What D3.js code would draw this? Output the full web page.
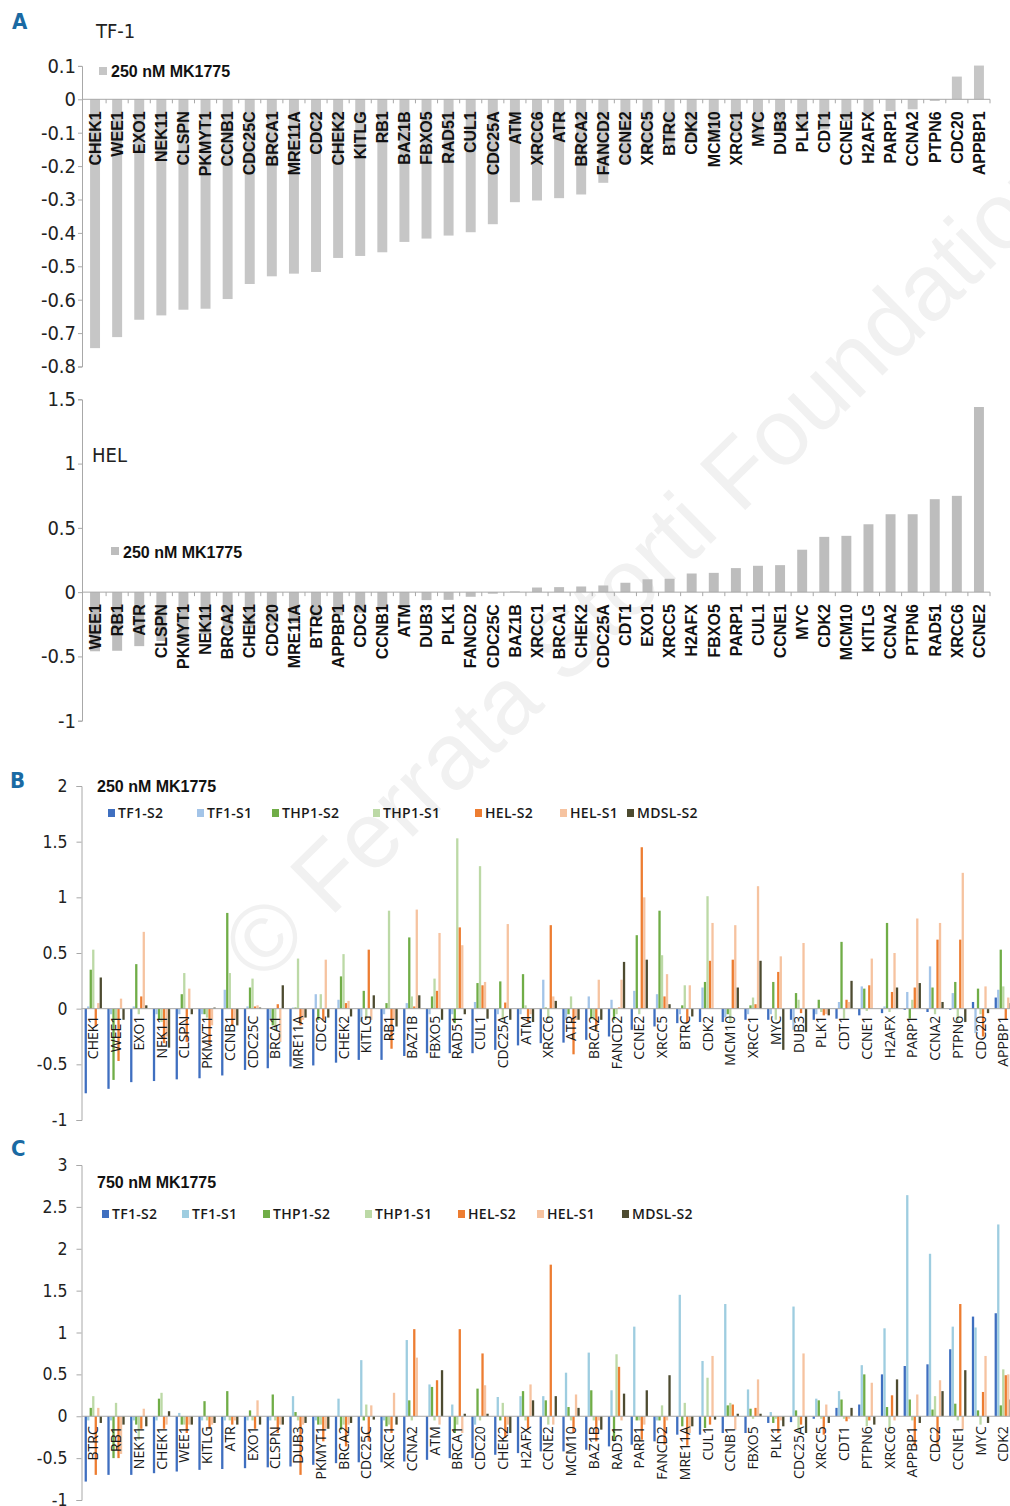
<!DOCTYPE html>
<html><head><meta charset="utf-8">
<script src="https://cdn.jsdelivr.net/npm/d3@7"></script>
<style>body{margin:0;background:#fff}svg{display:block}</style>
</head><body>
<script>
// ---------------- DATA ----------------
const tf1Genes = ["CHEK1","WEE1","EXO1","NEK11","CLSPN","PKMYT1","CCNB1","CDC25C","BRCA1","MRE11A","CDC2","CHEK2","KITLG","RB1","BAZ1B","FBXO5","RAD51","CUL1","CDC25A","ATM","XRCC6","ATR","BRCA2","FANCD2","CCNE2","XRCC5","BTRC","CDK2","MCM10","XRCC1","MYC","DUB3","PLK1","CDT1","CCNE1","H2AFX","PARP1","CCNA2","PTPN6","CDC20","APPBP1"];
const tf1Values = [-0.745,-0.712,-0.66,-0.647,-0.63,-0.627,-0.598,-0.553,-0.53,-0.522,-0.517,-0.475,-0.469,-0.458,-0.427,-0.417,-0.408,-0.398,-0.374,-0.308,-0.303,-0.296,-0.285,-0.25,-0.19,-0.16,-0.14,-0.13,-0.12,-0.11,-0.105,-0.1,-0.095,-0.09,-0.065,-0.045,-0.035,-0.03,-0.005,0.068,0.101];
const tf1TickValues = [0.1,0,-0.1,-0.2,-0.3,-0.4,-0.5,-0.6,-0.7,-0.8];
const tf1TickLabels = ["0.1","0","-0.1","-0.2","-0.3","-0.4","-0.5","-0.6","-0.7","-0.8"];

const helGenes = ["WEE1","RB1","ATR","CLSPN","PKMYT1","NEK11","BRCA2","CHEK1","CDC20","MRE11A","BTRC","APPBP1","CDC2","CCNB1","ATM","DUB3","PLK1","FANCD2","CDC25C","BAZ1B","XRCC1","BRCA1","CHEK2","CDC25A","CDT1","EXO1","XRCC5","H2AFX","FBXO5","PARP1","CUL1","CCNE1","MYC","CDK2","MCM10","KITLG","CCNA2","PTPN6","RAD51","XRCC6","CCNE2"];
const helValues = [-0.46,-0.456,-0.42,-0.38,-0.36,-0.33,-0.3,-0.28,-0.26,-0.24,-0.21,-0.18,-0.16,-0.13,-0.11,-0.062,-0.06,-0.036,-0.012,0.005,0.036,0.039,0.044,0.052,0.073,0.10,0.104,0.145,0.15,0.187,0.205,0.21,0.33,0.43,0.438,0.528,0.606,0.606,0.723,0.749,1.44];
const helTickValues = [1.5,1,0.5,0,-0.5,-1];
const helTickLabels = ["1.5","1","0.5","0","-0.5","-1"];

const seriesNames = ["TF1-S2","TF1-S1","THP1-S2","THP1-S1","HEL-S2","HEL-S1","MDSL-S2"];

// Panel B (250 nM), categories in tf1Genes order
const bGenes = tf1Genes;
const bTF1S2  = [-0.76,-0.72,-0.66,-0.65,-0.635,-0.625,-0.6,-0.55,-0.535,-0.52,-0.51,-0.485,-0.46,-0.46,-0.425,-0.4,-0.4,-0.4,-0.37,-0.33,-0.31,-0.305,-0.28,-0.25,-0.19,-0.16,-0.13,-0.12,-0.12,-0.1,-0.1,-0.1,-0.1,-0.09,-0.06,-0.04,-0.01,-0.03,-0.01,0.06,0.1];
const bTF1S1  = [0.02,-0.05,0.02,-0.05,-0.05,-0.05,0.17,0.02,-0.1,0.01,0.13,0.08,-0.12,-0.05,0.05,-0.05,-0.05,0.06,-0.05,-0.05,0.26,-0.1,0.11,0.08,0.16,0.13,-0.05,0.19,-0.08,-0.05,-0.05,-0.19,-0.05,0.06,0.2,0.02,0.15,0.38,0.14,-0.22,0.17];
const bTHP1S2 = [0.35,-0.64,0.4,-0.1,0.13,-0.05,0.86,0.19,-0.15,0.01,-0.1,0.29,0.16,0.05,0.64,0.11,-0.13,0.23,0.245,0.31,0.01,-0.05,-0.09,-0.1,0.66,0.88,0.03,0.24,-0.05,0.03,0.24,0.14,0.08,0.6,0.18,0.77,-0.09,0.19,0.24,0.18,0.53];
const bTHP1S1 = [0.53,-0.1,-0.05,-0.12,0.32,-0.08,0.32,0.27,-0.2,0.45,0.13,0.49,-0.09,0.88,0.11,0.27,1.53,1.28,-0.1,0.03,-0.09,0.11,-0.1,-0.05,-0.05,0.48,0.21,1.01,-0.13,0.1,-0.1,0.08,-0.03,-0.09,-0.02,-0.03,0.08,-0.05,-0.1,-0.05,0.2];
const bHELS2  = [-0.16,-0.47,0.11,-0.31,-0.3,-0.32,-0.15,0.02,0.04,-0.15,-0.1,0.05,0.53,-0.36,0.02,0.16,0.73,0.21,0.055,-0.12,0.75,-0.41,-0.19,0.01,1.45,0.11,-0.13,0.43,0.44,0.04,0.33,-0.04,-0.06,0.08,0.21,0.15,0.19,0.62,0.62,-0.25,-0.1];
const bHELS1  = [0.05,0.09,0.69,-0.25,0.18,-0.15,-0.1,0.03,-0.3,-0.1,0.44,0.07,-0.1,-0.1,0.89,0.68,0.57,0.24,0.76,-0.05,0.11,-0.1,0.26,0.26,1.0,0.31,0.21,0.77,0.75,1.1,0.47,0.59,-0.05,0.06,0.45,0.5,0.81,0.77,1.22,0.2,0.1];
const bMDSLS2 = [0.28,-0.1,0.03,-0.35,-0.05,0.01,-0.15,0.01,0.21,-0.08,-0.08,-0.07,0.12,-0.16,0.12,-0.1,-0.05,-0.09,-0.1,-0.12,0.07,-0.1,-0.1,0.42,0.44,0.04,-0.07,0.0,0.19,0.43,-0.37,-0.21,-0.06,0.25,0.0,0.19,0.23,0.06,-0.12,-0.04,0.05];
const bTickValues = [2,1.5,1,0.5,0,-0.5,-1];
const bTickLabels = ["2","1.5","1","0.5","0","-0.5","-1"];

// Panel C (750 nM)
const cGenes = ["BTRC","RB1","NEK11","CHEK1","WEE1","KITLG","ATR","EXO1","CLSPN","DUB3","PKMYT1","BRCA2","CDC25C","XRCC1","CCNA2","ATM","BRCA1","CDC20","CHEK2","H2AFX","CCNE2","MCM10","BAZ1B","RAD51","PARP1","FANCD2","MRE11A","CUL1","CCNB1","FBXO5","PLK1","CDC25A","XRCC5","CDT1","PTPN6","XRCC6","APPBP1","CDC2","CCNE1","MYC","CDK2"];
const cTF1S2  = [-0.78,-0.7,-0.7,-0.68,-0.66,-0.64,-0.63,-0.62,-0.61,-0.6,-0.58,-0.56,-0.55,-0.55,-0.54,-0.52,-0.5,-0.5,-0.46,-0.44,-0.42,-0.42,-0.4,-0.36,-0.34,-0.3,-0.22,-0.22,-0.2,-0.2,-0.08,-0.07,-0.03,0.1,0.14,0.5,0.6,0.62,0.8,1.19,1.23];
const cTF1S1  = [-0.05,-0.05,-0.05,-0.05,0.04,-0.05,-0.05,-0.05,-0.05,0.24,-0.05,0.21,0.67,-0.05,0.91,0.38,0.14,-0.1,0.23,0.24,0.24,0.52,0.76,0.31,1.07,-0.05,1.45,0.66,1.34,0.32,0.05,1.31,0.21,0.3,0.61,1.05,2.64,1.94,1.07,1.06,2.29];
const cTHP1S2 = [0.1,-0.5,-0.1,0.21,-0.1,0.18,0.3,0.07,0.26,0.05,-0.1,-0.16,-0.05,-0.12,0.19,0.35,-0.2,0.33,-0.05,0.3,0.19,0.11,0.31,-0.3,-0.05,-0.05,-0.12,-0.14,0.13,0.09,-0.08,0.07,0.19,0.2,0.5,0.11,0.2,0.08,0.15,0.07,0.13];
const cTHP1S1 = [0.24,0.16,-0.28,0.28,-0.1,-0.05,-0.05,-0.05,-0.05,-0.05,-0.1,-0.1,0.14,-0.1,-0.05,-0.05,-0.1,-0.05,0.16,-0.05,-0.1,-0.05,-0.05,0.74,-0.05,0.13,0.16,0.46,0.16,-0.03,-0.03,-0.18,-0.03,-0.03,-0.12,-0.16,-0.05,0.24,-0.05,-0.1,0.56];
const cHELS2  = [-0.7,-0.5,-0.15,-0.15,-0.2,-0.15,-0.1,-0.15,-0.2,-0.7,-0.3,-0.36,-0.3,-0.2,1.04,0.43,1.04,0.75,-0.26,-0.16,1.81,-0.2,-0.3,0.59,-0.28,-0.34,-0.35,-0.1,0.14,0.1,-0.2,-0.1,-0.22,-0.06,-0.05,0.25,-0.36,-0.36,1.34,0.29,0.49];
const cHELS1  = [0.1,-0.45,0.09,-0.1,-0.1,-0.1,-0.05,0.19,-0.1,-0.1,-0.15,-0.1,0.13,0.28,0.7,-0.1,-0.2,0.37,-0.1,0.38,-0.1,0.26,-0.05,-0.05,-0.1,-0.05,-0.2,0.72,-0.16,0.44,-0.05,0.75,0.14,-0.03,0.4,-0.05,0.26,0.43,-0.16,0.72,0.5];
const cMDSLS2 = [-0.08,-0.1,-0.12,0.06,-0.1,-0.08,-0.1,-0.1,-0.1,-0.08,-0.15,-0.08,-0.04,-0.1,0.0,0.55,0.03,0.03,-0.2,0.19,0.24,0.1,-0.16,0.27,0.31,0.49,-0.12,-0.04,0.03,0.03,-0.12,-0.2,-0.08,0.1,-0.1,0.44,-0.08,0.3,0.55,-0.08,0.2];
const cTickValues = [3,2.5,2,1.5,1,0.5,0,-0.5,-1];
const cTickLabels = ["3","2.5","2","1.5","1","0.5","0","-0.5","-1"];

// ---------------- STYLE ----------------
const colorsB = ["#3f6fc0","#a3c4e8","#70ad47","#bcd9a6","#ed7d31","#f6c3a0","#4d4b30"];
const colorsC = ["#3f6fc0","#9ecde0","#70ad47","#bcd9a6","#ed7d31","#f6c3a0","#4d4b30"];
const condFont = "'DejaVu Sans Condensed','DejaVu Sans',sans-serif";
const boldFont = "'Liberation Sans',Arial,sans-serif";
const calFont = "'Open Sans',Lato,sans-serif";
const axisColor = "#a8a8a8";

const svg = d3.select("body").append("svg").attr("width",1010).attr("height",1506);

// watermark
svg.append("text").attr("transform","translate(262,985) rotate(-44.5)")
  .attr("font-family",boldFont).attr("font-size",94).attr("fill","#f1f1f1")
  .text("© Ferrata Storti Foundation");

function yAxis(g, y, vals, labels, x, size, tsize, pad){
  const ax = d3.axisLeft(y).tickValues(vals).tickFormat((d,i)=>labels[i]).tickSize(tsize).tickPadding(pad);
  const a = g.append("g").attr("transform",`translate(${x},0)`).call(ax);
  a.selectAll("path,line").attr("stroke",axisColor);
  a.selectAll("text").attr("font-family",condFont).attr("font-size",size).attr("fill","#222");
  return a;
}

// ---------- Panel A: single gray series ----------
function drawSingle(genes, values, yDom, yRng, ticks, tickLabels, barColor, xRange){
  const g = svg.append("g");
  const y = d3.scaleLinear().domain(yDom).range(yRng);
  const x = d3.scaleBand().domain(genes).range(xRange).paddingInner(0.55).paddingOuter(0.275);
  const y0 = y(0);
  g.selectAll("rect.bar").data(genes).join("rect")
    .attr("x",d=>x(d)).attr("width",x.bandwidth())
    .attr("y",(d,i)=>Math.min(y(values[i]),y0))
    .attr("height",(d,i)=>Math.abs(y(values[i])-y0))
    .attr("fill",barColor);
  yAxis(g, y, ticks, tickLabels, 82, 20, 4, 2);
  g.append("line").attr("x1",82).attr("x2",xRange[1]).attr("y1",y0).attr("y2",y0).attr("stroke",axisColor);
  const off = (x.step()-x.bandwidth())/2;
  g.selectAll("line.xt").data(genes).join("line").attr("class","xt")
    .attr("x1",d=>x(d)+x.bandwidth()+off).attr("x2",d=>x(d)+x.bandwidth()+off)
    .attr("y1",y0).attr("y2",y0+4).attr("stroke",axisColor);
  g.selectAll("text.cat").data(genes).join("text").attr("class","cat")
    .attr("transform",d=>`translate(${x(d)+x.bandwidth()/2},${y0+12}) rotate(-90)`)
    .attr("text-anchor","end").attr("dy","0.36em")
    .attr("font-family",boldFont).attr("font-weight","bold").attr("font-size",16).attr("fill","#111")
    .text(d=>d);
  return {g,y,x};
}

drawSingle(tf1Genes, tf1Values, [-0.8,0.1], [366.5,65.9], tf1TickValues, tf1TickLabels, "#c6c6c6", [84,990]);
drawSingle(helGenes, helValues, [-1,1.5], [720.7,399.3], helTickValues, helTickLabels, "#bdbdbd", [84,990]);

// panel A text
svg.append("text").attr("x",12).attr("y",29).attr("font-family",condFont).attr("font-weight","bold")
  .attr("font-size",22).attr("fill","#1a6aa3").text("A");
svg.append("text").attr("x",96).attr("y",38).attr("font-family",condFont).attr("font-size",20).attr("fill","#222").text("TF-1");
svg.append("text").attr("x",92).attr("y",462).attr("font-family",condFont).attr("font-size",20).attr("fill","#222").text("HEL");
svg.append("rect").attr("x",99).attr("y",67).attr("width",8).attr("height",8).attr("fill","#c6c6c6");
svg.append("text").attr("x",111).attr("y",77).attr("font-family",boldFont).attr("font-weight","bold").attr("font-size",16).attr("fill","#111").text("250 nM MK1775");
svg.append("rect").attr("x",111).attr("y",547).attr("width",8).attr("height",8).attr("fill","#bdbdbd");
svg.append("text").attr("x",123).attr("y",558).attr("font-family",boldFont).attr("font-weight","bold").attr("font-size",16).attr("fill","#111").text("250 nM MK1775");

// ---------- Panels B & C: grouped ----------
function drawGrouped(genes, seriesVals, colors, yDom, yRng, ticks, tickLabels, labelOff){
  const g = svg.append("g");
  const y = d3.scaleLinear().domain(yDom).range(yRng);
  const step = 22.75;
  const x = d3.scaleBand().domain(genes).range([82, 82+genes.length*step]).paddingInner(0.23).paddingOuter(0.115);
  const xs = d3.scaleBand().domain(seriesNames).range([0,x.bandwidth()]);
  const y0 = y(0);
  const rows = [];
  genes.forEach((gn,i)=>seriesNames.forEach((s,j)=>rows.push({gn,s,j,v:seriesVals[j][i]})));
  g.selectAll("rect").data(rows).join("rect")
    .attr("x",d=>x(d.gn)+xs(d.s)).attr("width",xs.bandwidth()*0.92)
    .attr("y",d=>Math.min(y(d.v),y0)).attr("height",d=>Math.abs(y(d.v)-y0))
    .attr("fill",d=>colors[d.j]);
  yAxis(g, y, ticks, tickLabels, 81.5, 17.5, 5, 9);
  g.append("line").attr("x1",81.5).attr("x2",1010).attr("y1",y0).attr("y2",y0).attr("stroke",axisColor);
  g.selectAll("text.cat").data(genes).join("text").attr("class","cat")
    .attr("transform",d=>`translate(${x(d)+x.bandwidth()/2},${y0+labelOff}) rotate(-90)`)
    .attr("text-anchor","end").attr("dy","0.36em")
    .attr("font-family",calFont).attr("font-size",14).attr("fill","#1a1a1a")
    .text(d=>d);
  return {g,y,x};
}

drawGrouped(bGenes, [bTF1S2,bTF1S1,bTHP1S2,bTHP1S1,bHELS2,bHELS1,bMDSLS2], colorsB, [-1,2], [1120,786], bTickValues, bTickLabels, 7);
drawGrouped(cGenes, [cTF1S2,cTF1S1,cTHP1S2,cTHP1S1,cHELS2,cHELS1,cMDSLS2], colorsC, [-1,3], [1500,1165], cTickValues, cTickLabels, 10);

// titles / legends B & C
function legend(xs, ySq, colors){
  seriesNames.forEach((s,i)=>{
    svg.append("rect").attr("x",xs[i]).attr("y",ySq).attr("width",7).attr("height",8).attr("fill",colors[i]);
    svg.append("text").attr("x",xs[i]+10).attr("y",ySq+8.5).attr("font-family",calFont)
      .attr("font-size",14).attr("font-weight",600).attr("letter-spacing",0.3).attr("fill","#1a1a1a").text(s);
  });
}
svg.append("text").attr("x",10).attr("y",788).attr("font-family",condFont).attr("font-weight","bold")
  .attr("font-size",22).attr("fill","#1a6aa3").text("B");
svg.append("text").attr("x",97).attr("y",792).attr("font-family",boldFont).attr("font-weight","bold").attr("font-size",16).attr("fill","#111").text("250 nM MK1775");
legend([108,197,272,373,475,560,627], 809, colorsB);

svg.append("text").attr("x",11).attr("y",1156).attr("font-family",condFont).attr("font-weight","bold")
  .attr("font-size",22).attr("fill","#1a6aa3").text("C");
svg.append("text").attr("x",97).attr("y",1188).attr("font-family",boldFont).attr("font-weight","bold").attr("font-size",16).attr("fill","#111").text("750 nM MK1775");
legend([102,182,263,365,458,537,622], 1210, colorsC);
</script>
</body></html>
